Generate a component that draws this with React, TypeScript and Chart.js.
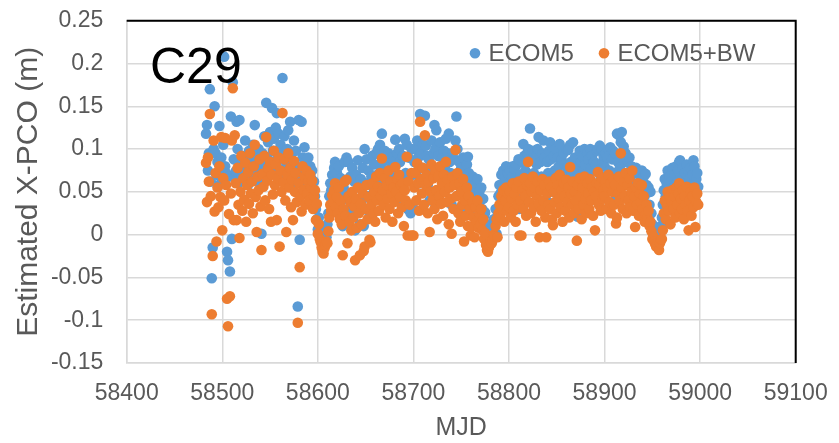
import { useEffect, useRef } from "react";
import { Chart, registerables } from "chart.js";

Chart.register(...registerables);

const FONT = '"Liberation Sans", Arial, sans-serif';
const TEXT_GREY = "#595959";
const GRID_GREY = "#d9d9d9";

const seriesNames = ["ECOM5", "ECOM5+BW"];
const seriesColors = ["#5B9BD5", "#ED7D31"];
const satelliteLabel = "C29";

const xTickValues = [58400, 58500, 58600, 58700, 58800, 58900, 59000, 59100];
const yTickValues = [-0.15, -0.1, -0.05, 0, 0.05, 0.1, 0.15, 0.2, 0.25];

// First MJD of each block of consecutive daily estimates
const blockStartMjd = [58483, 58600, 58700, 58800, 58900];

// ECOM5 daily X-PCO estimates (m)
const ecom5A = [
  0.118, 0.128, 0.075, 0.095, 0.17, 0.062, -0.051, -0.015, 0.1, 0.15,
  0.095, 0.07, 0.085, 0.058, 0.127, 0.078, 0.09, 0.065, 0.105, 0.208,
  0.08, 0.072, -0.02, -0.03, 0.068, -0.043, 0.138, -0.005, 0.178, 0.088,
  0.066, 0.074, 0.132, 0.1, 0.06, 0.134, 0.082, 0.07, 0.092, 0.064,
  0.078, 0.11, 0.072, 0.085, 0.058, 0.098, 0.076, 0.088, 0.066, 0.105,
  0.08, 0.128, 0.074, 0.09, 0.062, 0.1, 0.083, 0.07, 0.001, 0.095,
  0.078, 0.115, 0.088, 0.154, 0.09, 0.108, 0.075, 0.12, 0.085, 0.148,
  0.098, 0.112, 0.08, 0.125, 0.142, 0.092, 0.118, 0.07, 0.105, 0.088,
  0.183, 0.096, 0.115, 0.078, 0.062, 0.1, 0.122, 0.085, 0.132, 0.07,
  0.095, 0.058, 0.11, 0.082, 0.098, 0.066, -0.084, 0.134, -0.006, 0.075,
  0.132, 0.09, 0.068, 0.102, 0.06, 0.085, 0.072, 0.09, 0.058, 0.08,
  0.066, 0.075, 0.05, 0.062, 0.045, 0.03, 0.018,
];
const ecom5B = [
  0.006, 0.02, 0.004, -0.002, 0.003, -0.006, 0.008, 0.0, 0.005, -0.003,
  0.012, 0.025, 0.045, 0.06, 0.052, 0.07, 0.062, 0.078, 0.085, 0.058,
  0.072, 0.05, 0.08, 0.045, 0.066, 0.04, 0.01, 0.055, 0.085, 0.048,
  0.09, 0.02, 0.085, 0.042, 0.068, 0.03, 0.078, 0.036, 0.062, 0.005,
  0.07, 0.035, 0.087, 0.055, 0.012, 0.065, 0.04, 0.078, 0.01, 0.1,
  0.06, 0.088, 0.045, 0.075, 0.025, 0.03, 0.068, 0.092, 0.055, 0.082,
  0.048, 0.095, 0.07, 0.1, 0.06, 0.105, 0.078, 0.118, 0.085, 0.065,
  0.098, 0.05, 0.09, 0.072, 0.095, 0.062, 0.09, 0.08, 0.045, 0.085,
  0.07, 0.111, 0.082, 0.095, 0.058, 0.1, 0.085, 0.088, 0.062, 0.092,
  0.04, 0.112, 0.072, 0.105, 0.03, 0.09, 0.068, 0.025, 0.1, 0.035,
];
const ecom5C = [
  0.03, 0.085, 0.1, 0.07, 0.11, 0.09, 0.06, 0.141, 0.095, 0.078,
  0.105, 0.065, 0.139, 0.104, 0.092, 0.058, 0.088, 0.04, 0.08, 0.11,
  0.072, 0.095, 0.128, 0.1, 0.122, 0.05, 0.092, 0.075, 0.108, 0.068,
  0.09, 0.055, 0.098, 0.08, 0.112, 0.07, 0.095, 0.118, 0.085, 0.072,
  0.035, 0.095, 0.062, 0.088, 0.11, 0.138, 0.1, 0.058, 0.085, 0.048,
  0.078, 0.065, 0.09, 0.025, 0.07, 0.055, 0.082, 0.091, 0.072, 0.06,
  0.03, 0.045, 0.068, 0.05, 0.028, 0.06, 0.042, 0.065, 0.035, 0.05,
  0.04, 0.055, 0.03, 0.042, 0.022, 0.026, 0.012, 0.005, 0.002, 0.006,
  0.01, 0.004, 0.008, 0.012, 0.018, 0.015, 0.03, 0.001, 0.022, 0.045,
  0.058, 0.048, 0.07, 0.055, 0.075, 0.042, 0.065, 0.08, 0.052, 0.072,
];
const ecom5D = [
  0.06, 0.075, 0.05, 0.068, 0.08, 0.055, 0.077, 0.045, 0.082, 0.062,
  0.088, 0.03, 0.07, 0.04, 0.085, 0.106, 0.092, 0.075, 0.06, 0.095,
  0.1, 0.07, 0.124, 0.065, 0.088, 0.098, 0.072, 0.09, 0.055, 0.082,
  0.1, 0.114, 0.035, 0.085, 0.068, 0.095, 0.11, 0.09, 0.06, 0.04,
  0.085, 0.072, 0.098, 0.108, 0.088, 0.058, 0.05, 0.092, 0.075, 0.1,
  0.065, 0.09, 0.08, 0.106, 0.07, 0.088, 0.055, 0.095, 0.082, 0.068,
  0.1, 0.078, 0.099, 0.06, 0.105, 0.085, 0.072, 0.108, 0.065, 0.09,
  0.08, 0.03, 0.021, 0.07, 0.098, 0.085, 0.058, 0.092, 0.075, 0.1,
  0.082, 0.065, 0.095, 0.088, 0.07, 0.1, 0.078, 0.092, 0.06, 0.085,
  0.045, 0.082, 0.098, 0.1, 0.075, 0.104, 0.068, 0.1, 0.085, 0.092,
];
const ecom5E = [
  0.08, 0.095, 0.068, 0.09, 0.1, 0.075, 0.102, 0.065, 0.088, 0.098,
  0.072, 0.095, 0.045, 0.118, 0.085, 0.116, 0.078, 0.108, 0.12, 0.07,
  0.103, 0.085, 0.095, 0.06, 0.087, 0.072, 0.09, 0.065, 0.08, 0.079,
  0.058, 0.072, 0.04, 0.078, 0.06, 0.075, 0.05, 0.07, 0.062, 0.075,
  0.055, 0.068, 0.045, 0.071, 0.058, 0.05, 0.055, 0.035, 0.05, 0.025,
  0.012, 0.008, 0.003, 0.0, -0.004, -0.002, -0.006, -0.008, 0.002, 0.01,
  0.02, 0.035, 0.052, 0.065, 0.045, 0.06, 0.075, 0.05, 0.068, 0.04,
  0.062, 0.078, 0.055, 0.07, 0.048, 0.08, 0.062, 0.075, 0.085, 0.087,
  0.068, 0.055, 0.078, 0.045, 0.072, 0.06, 0.082, 0.058, 0.075, 0.065,
  0.078, 0.05, 0.07, 0.087, 0.08, 0.045, 0.065, 0.072, 0.056,
];

// ECOM5+BW daily X-PCO estimates (m)
const ecom5BwA = [
  0.084, 0.038, 0.09, 0.062, 0.141, 0.045, -0.093, -0.025, 0.11, 0.027,
  0.072, -0.008, 0.055, 0.032, 0.08, 0.044, 0.114, 0.005, 0.066, 0.04,
  0.113, 0.058, -0.075, -0.107, 0.024, -0.072, 0.048, 0.11, 0.171, 0.017,
  0.116, 0.06, 0.017, 0.078, 0.035, -0.004, 0.05, 0.092, 0.028, 0.066,
  0.041, 0.084, 0.015, 0.058, 0.073, 0.036, 0.095, 0.048, 0.062, 0.025,
  0.08, 0.105, 0.044, 0.003, 0.068, 0.052, 0.088, 0.033, -0.018, 0.071,
  0.056, 0.092, 0.04, 0.114, 0.063, 0.078, 0.03, 0.085, 0.015, 0.07,
  0.047, 0.098, 0.058, 0.082, 0.017, 0.066, 0.09, -0.014, 0.075, 0.05,
  0.142, 0.061, 0.088, 0.04, 0.003, 0.07, 0.095, 0.055, 0.078, 0.032,
  0.064, 0.017, 0.086, 0.05, 0.072, 0.038, -0.103, 0.06, -0.038, 0.045,
  0.027, 0.08, 0.052, 0.068, 0.035, 0.075, 0.048, 0.062, 0.04, 0.07,
  0.055, 0.063, 0.03, 0.045, 0.052, 0.017, 0.036,
];
const ecom5BwB = [
  0.001, 0.012, -0.005, -0.009, -0.015, -0.02, -0.022, -0.016, -0.012, -0.008,
  -0.01, 0.004, 0.02, 0.035, 0.028, 0.046, 0.038, 0.052, 0.06, 0.032,
  0.044, 0.025, 0.055, 0.018, 0.04, 0.012, -0.024, 0.03, 0.062, 0.022,
  0.064, -0.01, 0.045, 0.015, 0.038, 0.005, 0.05, 0.02, 0.033, -0.03,
  0.042, 0.008, 0.055, 0.025, -0.024, 0.036, 0.012, 0.048, -0.019, -0.014,
  0.03, 0.058, 0.018, 0.044, -0.006, -0.009, 0.035, 0.06, 0.025, 0.05,
  0.015, 0.068, 0.04, 0.056, 0.028, 0.072, 0.045, 0.089, 0.052, 0.035,
  0.066, 0.02, 0.058, 0.042, 0.075, 0.03, 0.062, 0.048, 0.015, 0.055,
  0.038, 0.079, 0.05, 0.065, 0.025, 0.07, 0.044, 0.058, 0.032, 0.06,
  0.01, 0.052, 0.04, 0.091, -0.001, 0.062, 0.035, -0.001, 0.072, -0.001,
];
const ecom5BwC = [
  -0.001, 0.055, 0.072, 0.04, 0.083, 0.06, 0.028, 0.132, 0.065, 0.048,
  0.078, 0.035, 0.116, 0.058, 0.07, 0.025, 0.062, 0.003, 0.05, 0.082,
  0.04, 0.066, 0.03, 0.075, 0.052, 0.018, 0.068, 0.045, 0.08, 0.036,
  0.06, 0.022, 0.07, 0.05, 0.085, 0.038, 0.064, 0.012, 0.055, 0.042,
  0.001, 0.068, 0.03, 0.058, 0.099, 0.045, 0.072, 0.025, 0.06, 0.015,
  0.05, 0.035, 0.065, -0.008, 0.04, 0.022, 0.055, 0.01, 0.045, 0.03,
  -0.001, 0.009, 0.038, 0.02, -0.003, 0.032, 0.015, 0.04, 0.008, 0.025,
  0.012, 0.03, 0.005, 0.018, -0.005, 0.002, -0.012, -0.018, -0.02, -0.015,
  -0.012, -0.008, -0.01, -0.006, 0.0, -0.002, 0.01, 0.018, -0.003, 0.025,
  0.035, 0.02, 0.045, 0.03, 0.052, 0.015, 0.04, 0.055, 0.028, 0.048,
];
const ecom5BwD = [
  0.032, 0.05, 0.02, 0.042, 0.06, 0.028, 0.048, 0.015, 0.055, 0.035,
  0.062, -0.001, 0.04, -0.001, 0.052, 0.03, 0.066, 0.045, 0.022, 0.058,
  0.085, 0.038, 0.06, 0.025, 0.05, 0.068, 0.032, 0.055, 0.015, 0.045,
  0.062, 0.036, -0.003, 0.052, 0.028, 0.065, 0.04, 0.058, 0.02, -0.003,
  0.048, 0.035, 0.062, 0.03, 0.055, 0.018, 0.011, 0.05, 0.038, 0.066,
  0.025, 0.058, 0.042, 0.07, 0.032, 0.052, 0.015, 0.06, 0.045, 0.028,
  0.064, 0.038, 0.055, 0.02, 0.079, 0.048, 0.035, 0.062, 0.025, 0.05,
  0.04, -0.007, 0.058, 0.03, 0.066, 0.045, 0.018, 0.055, 0.035, 0.068,
  0.042, 0.025, 0.06, 0.048, 0.03, 0.065, 0.04, 0.055, 0.022, 0.05,
  0.005, 0.045, 0.06, 0.073, 0.035, 0.058, 0.028, 0.066, 0.042, 0.052,
];
const ecom5BwE = [
  0.045, 0.062, 0.03, 0.055, 0.07, 0.038, 0.06, 0.025, 0.05, 0.065,
  0.035, 0.058, 0.013, 0.02, 0.048, 0.068, 0.04, 0.095, 0.055, 0.03,
  0.062, 0.045, 0.072, 0.025, 0.058, 0.04, 0.066, 0.032, 0.05, 0.075,
  0.028, 0.045, 0.009, 0.055, 0.035, 0.06, 0.022, 0.048, 0.038, 0.058,
  0.03, 0.045, 0.015, 0.023, 0.035, 0.02, 0.028, 0.01, 0.015, 0.004,
  -0.005, -0.002, -0.008, -0.011, -0.014, -0.012, -0.016, -0.018, -0.01, -0.006,
  -0.005, 0.005, 0.025, 0.04, 0.018, 0.035, 0.05, 0.028, 0.045, 0.012,
  0.038, 0.052, 0.03, 0.045, 0.02, 0.055, 0.035, 0.048, 0.06, 0.025,
  0.042, 0.03, 0.052, 0.018, 0.045, 0.035, 0.056, 0.028, 0.005, 0.04,
  0.05, 0.022, 0.045, 0.032, 0.055, 0.009, 0.038, 0.048, 0.035,
];

const ecom5Blocks = [ecom5A, ecom5B, ecom5C, ecom5D, ecom5E];
const ecom5BwBlocks = [ecom5BwA, ecom5BwB, ecom5BwC, ecom5BwD, ecom5BwE];

function toPoints(blocks: number[][]) {
  return blocks.flatMap((values, k) =>
    values.map((v, i) => ({ x: blockStartMjd[k] + i, y: v }))
  );
}

const overlayPlugin = {
  id: "overlay",
  afterDraw(chart: any) {
    const { ctx, chartArea } = chart;
    const { left, right, top, bottom } = chartArea;
    ctx.save();

    // black frame on the top and right sides of the plot
    ctx.strokeStyle = "#000000";
    ctx.lineWidth = 2;
    ctx.beginPath();
    ctx.moveTo(left, top);
    ctx.lineTo(right, top);
    ctx.lineTo(right, bottom);
    ctx.stroke();

    // satellite label
    ctx.fillStyle = "#000000";
    ctx.font = `50px ${FONT}`;
    ctx.textAlign = "left";
    ctx.textBaseline = "alphabetic";
    ctx.fillText(satelliteLabel, left + 23.3, top + 62);

    // legend
    const legendY = top + 32.5;
    const legendX = [left + 348.3, left + 477.3];
    ctx.font = `24px ${FONT}`;
    ctx.textBaseline = "middle";
    chart.data.datasets.forEach((ds: any, i: number) => {
      ctx.fillStyle = ds.backgroundColor;
      ctx.beginPath();
      ctx.arc(legendX[i], legendY, 5.3, 0, Math.PI * 2);
      ctx.fill();
      ctx.fillStyle = TEXT_GREY;
      ctx.fillText(ds.label, legendX[i] + 13.5, legendY + 1);
    });
    ctx.restore();
  },
};

export default function App() {
  const canvasRef = useRef<HTMLCanvasElement | null>(null);

  useEffect(() => {
    if (!canvasRef.current) return;
    const chart = new Chart(canvasRef.current, {
      type: "scatter",
      data: {
        datasets: [
          {
            label: seriesNames[0],
            data: toPoints(ecom5Blocks),
            backgroundColor: seriesColors[0],
            borderWidth: 0,
            pointRadius: 5.3,
            pointHoverRadius: 5.3,
            order: 1,
          },
          {
            label: seriesNames[1],
            data: toPoints(ecom5BwBlocks),
            backgroundColor: seriesColors[1],
            borderWidth: 0,
            pointRadius: 5.3,
            pointHoverRadius: 5.3,
            order: 0,
          },
        ],
      },
      options: {
        responsive: false,
        animation: false,
        events: [],
        layout: { padding: { left: 0, right: 43.3, top: 20.7, bottom: 0 } },
        plugins: {
          legend: { display: false },
          tooltip: { enabled: false },
        },
        scales: {
          x: {
            type: "linear",
            min: xTickValues[0],
            max: xTickValues[xTickValues.length - 1],
            afterBuildTicks: (axis: any) => {
              axis.ticks = xTickValues.map((value) => ({ value }));
            },
            afterFit: (axis: any) => {
              axis.height = 80;
              axis.paddingLeft = 0;
              axis.paddingRight = 0;
            },
            ticks: {
              autoSkip: false,
              maxRotation: 0,
              padding: 0,
              color: TEXT_GREY,
              font: { family: FONT, size: 23 },
              callback: (v: any) => String(v),
            },
            grid: {
              color: GRID_GREY,
              lineWidth: 1.5,
              drawTicks: true,
              tickLength: 17,
              tickColor: "rgba(0,0,0,0)",
            },
            border: { color: GRID_GREY, width: 1.5 },
            title: {
              display: true,
              text: "MJD",
              color: TEXT_GREY,
              font: { family: FONT, size: 25 },
              padding: { top: 0, bottom: 0 },
            },
          },
          y: {
            type: "linear",
            min: yTickValues[0],
            max: yTickValues[yTickValues.length - 1],
            afterBuildTicks: (axis: any) => {
              axis.ticks = yTickValues.map((value) => ({ value }));
            },
            afterFit: (axis: any) => {
              axis.width = 126.7;
              axis.paddingTop = 0;
              axis.paddingBottom = 0;
            },
            ticks: {
              autoSkip: false,
              padding: 0,
              color: TEXT_GREY,
              font: { family: FONT, size: 23 },
              callback: (v: any) => String(v),
            },
            grid: {
              color: GRID_GREY,
              lineWidth: 1.5,
              drawTicks: true,
              tickLength: 23.4,
              tickColor: "rgba(0,0,0,0)",
            },
            border: { color: GRID_GREY, width: 1.5 },
            title: {
              display: true,
              text: "Estimated X-PCO (m)",
              color: TEXT_GREY,
              font: { family: FONT, size: 30 },
              padding: { top: 11, bottom: 0 },
            },
          },
        },
      },
      plugins: [overlayPlugin],
    } as any);
    return () => chart.destroy();
  }, []);

  return (
    <div
      style={{
        position: "absolute",
        left: 0,
        top: 0,
        width: 839,
        height: 443,
        background: "#ffffff",
      }}
    >
      <canvas ref={canvasRef} width={839} height={443} />
    </div>
  );
}
